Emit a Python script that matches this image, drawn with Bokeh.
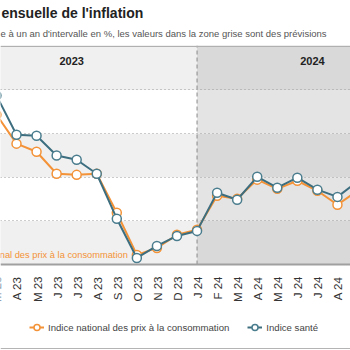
import math
from bokeh.plotting import figure
from bokeh.models import ColumnDataSource, FixedTicker, Legend, LegendItem, Span, Title
from bokeh.core.properties import value
from bokeh.embed import file_html
from bokeh.resources import INLINE

# ---- data (month index: 0 = Jan 2023) ----
month_idx = list(range(2, 21))
month_labels = ["M 23", "A 23", "M 23", "J 23", "J 23", "A 23", "S 23", "O 23", "N 23", "D 23",
                "J 24", "F 24", "M 24", "A 24", "M 24", "J 24", "J 24", "A 24", "S 24"]
cpi = [4.87, 3.54, 3.17, 2.16, 2.11, 2.16, 0.37, -1.56, -1.24, -0.64,
       -0.41, 1.15, 1.01, 1.89, 1.47, 1.84, 1.38, 0.74, 1.38]
health = [5.75, 3.95, 3.90, 3.00, 2.80, 2.16, 0.10, -1.70, -1.15, -0.69,
          -0.46, 1.29, 0.97, 2.02, 1.52, 1.98, 1.43, 1.10, 1.80]
series_names = ["Indice national des prix à la consommation", "Indice santé"]
direct_label = "nal des prix à la consommation"
direct_label_month = 9
forecast_start = 12
years = ["2023", "2024"]
year_centers = [5.75, 17.75]
grid_values = [0, 2, 4, 6]
axis_floor = -2
band_edges = [-2, 0, 2, 4, 6, 8.04]
title_text = "ensuelle de l'inflation"
subtitle_text = "e à un an d'intervalle en %, les valeurs dans la zone grise sont des prévisions"

FONT = "Liberation Sans"
ORANGE = "#f39237"
BLUE = "#3c6e7f"
BLUE_MK = "#4a7d8e"

# frame extends below the value axis to hold tick labels and legend
p = figure(frame_width=350, frame_height=305, x_range=(2.2024, 19.65), y_range=(-5.9426, 8.04),
           x_axis_location=None, y_axis_location=None, toolbar_location=None,
           output_backend="svg", min_border_left=0, min_border_right=0,
           min_border_top=45, min_border_bottom=0,
           background_fill_color="white", border_fill_color="white", outline_line_color=None)

# background bands
past_cols = ["#f0f0f0", "#ffffff"]
fut_cols = ["#d9d9d9", "#e4e4e4"]
bottoms = band_edges[:-1]
tops = band_edges[1:]
p.quad(left=[month_idx[0] - 3] * len(bottoms), right=[forecast_start] * len(bottoms),
       bottom=bottoms, top=tops, fill_color=[past_cols[i % 2] for i in range(len(bottoms))],
       line_color=None, level="image")
p.quad(left=[forecast_start] * len(bottoms), right=[month_idx[-1] + 3] * len(bottoms),
       bottom=bottoms, top=tops, fill_color=[fut_cols[i % 2] for i in range(len(bottoms))],
       line_color=None, level="image")

p.xgrid.visible = False
p.ygrid.ticker = FixedTicker(ticks=grid_values)
p.ygrid.grid_line_color = "#9a9a9a"
p.ygrid.grid_line_dash = "1 3"
p.ygrid.grid_line_width = 1

# forecast separator (only within the value area)
p.segment(x0=[forecast_start], y0=[axis_floor], x1=[forecast_start], y1=[band_edges[-1]],
          line_color="#8a8a8a", line_dash="4 3", line_width=1, level="underlay")
p.add_layout(Span(location=8, dimension="width", line_color="#b0b0b0", line_width=1.2,
                  level="underlay"))
# category axis line
p.add_layout(Span(location=axis_floor, dimension="width", line_color="#a0a0a0", line_width=2))
# bottom border of the chart box
p.add_layout(Span(location=-5.851, dimension="width", line_color="#b4b4b4", line_width=1))

src = ColumnDataSource(dict(x=month_idx, cpi=cpi, health=health))
l1 = p.line("x", "cpi", source=src, line_color=ORANGE, line_width=2)
s1 = p.scatter("x", "cpi", source=src, size=9, fill_color="white", line_color=ORANGE, line_width=1.5)
l2 = p.line("x", "health", source=src, line_color=BLUE, line_width=2)
s2 = p.scatter("x", "health", source=src, size=9, fill_color="white", line_color=BLUE_MK, line_width=1.5)

# month tick labels (vertical, reading upward) under the axis line
lab_src = ColumnDataSource(dict(x=month_idx, y=[axis_floor] * len(month_idx), t=month_labels))
p.text("x", "y", text="t", source=lab_src, angle=math.pi / 2, y_offset=12, x_offset=1,
       text_align="right", text_baseline="middle", text_font=value(FONT),
       text_font_size="11.5px", text_color="#333333")

# year headers
p.text(x=year_centers, y=[7.35, 7.35], text=years, text_align="center", text_baseline="middle",
       text_font=value(FONT), text_font_size="11px", text_font_style="bold", text_color="#222222")

# direct label
di = month_idx.index(direct_label_month)
p.text(x=[direct_label_month], y=[cpi[di]], text=[direct_label], x_offset=-9,
       text_align="right", text_baseline="middle", text_font=value(FONT),
       text_font_size="9.3px", text_color=ORANGE)

legend = Legend(items=[LegendItem(label=series_names[0], renderers=[l1, s1]),
                       LegendItem(label=series_names[1], renderers=[l2, s2])],
                orientation="horizontal", location=(29, 13), border_line_color=None,
                background_fill_alpha=0, label_text_font=FONT, label_text_font_size="9.6px",
                label_text_color="#444444", glyph_width=15, glyph_height=20,
                label_standoff=4, spacing=18, padding=2, margin=0)
p.add_layout(legend, "center")

p.add_layout(Title(text=subtitle_text, text_font=FONT, text_font_size="9.5px",
                   text_font_style="normal", text_color="#555555", align="left",
                   offset=0, standoff=13), "above")
p.add_layout(Title(text=title_text, text_font=FONT, text_font_size="14px",
                   text_font_style="bold", text_color="#222222", align="left",
                   offset=1, standoff=-2), "above")

open("out.html", "w").write(file_html(p, INLINE))
